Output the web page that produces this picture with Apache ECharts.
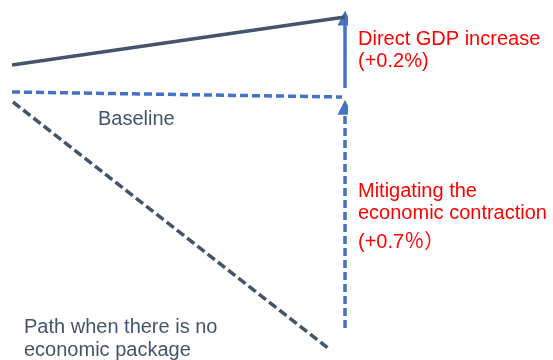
<!DOCTYPE html>
<html><head><meta charset="utf-8">
<script src="https://cdn.jsdelivr.net/npm/echarts@6/dist/echarts.min.js"></script>
<style>html,body{margin:0;padding:0;background:#fff}#c{width:553px;height:360px}</style>
</head><body><div id="c"></div>
<script>
// Schematic GDP paths (index units, x = time)
const packagePath = [[0, 100.675], [10, 101.875]];
const baselinePath = [[0, 100.0], [9.91, 99.875]];
const noPackagePath = [[0.03, 99.75], [9.49, 93.6]];
const directArrow = [[10, 100.1], [10, 101.85]];
const mitigationArrow = [[10, 94.1], [10, 99.62]];
const labelsRed1 = ['Direct GDP increase', '(+0.2%)'];
const labelsRed2 = ['Mitigating the', 'economic contraction', '(+0.7％）'];
const labelBaseline = 'Baseline';
const labelNoPackage = ['Path when there is no', 'economic package'];

const dark = '#44546A', blue = '#4472C4', red = '#FF0000';
const font = '"Liberation Sans", Arial, "Noto Sans CJK SC", sans-serif';
function txt(x, y, t, color) {
  return { type: 'text', x: x, y: y, style: { text: t, fill: color, font: '20px ' + font, verticalAlign: 'middle', align: 'left' } };
}
const chart = echarts.init(document.getElementById('c'));
chart.setOption({
  animation: false,
  grid: { left: 12, right: 208, top: 0, bottom: 0 },
  xAxis: { type: 'value', min: 0, max: 10, show: false },
  yAxis: { type: 'value', min: 93.3, max: 102.3, show: false },
  series: [
    { type: 'line', data: packagePath, symbol: 'none', lineStyle: { color: dark, width: 3.5 } },
    { type: 'line', data: baselinePath, symbol: 'none', lineStyle: { color: blue, width: 3.5, type: [8, 4] } },
    { type: 'line', data: noPackagePath, symbol: 'none', lineStyle: { color: dark, width: 3.5, type: [9, 4] } },
    { type: 'lines', coordinateSystem: 'cartesian2d', symbol: ['none', 'triangle'], symbolSize: [14, 15],
      data: [{ coords: directArrow }], lineStyle: { color: blue, width: 3.5, opacity: 1, curveness: 0 } },
    { type: 'lines', coordinateSystem: 'cartesian2d', symbol: ['none', 'triangle'], symbolSize: [14, 15],
      data: [{ coords: mitigationArrow }], lineStyle: { color: blue, width: 3.5, opacity: 1, type: [8, 4], curveness: 0 } }
  ],
  graphic: [
    txt(358, 39, labelsRed1[0], red),
    txt(358, 61, labelsRed1[1], red),
    txt(358, 191, labelsRed2[0], red),
    txt(358, 213, labelsRed2[1], red),
    txt(358, 242, labelsRed2[2], red),
    txt(98, 119, labelBaseline, dark),
    txt(24, 327, labelNoPackage[0], dark),
    txt(24, 350, labelNoPackage[1], dark)
  ]
});
</script></body></html>
